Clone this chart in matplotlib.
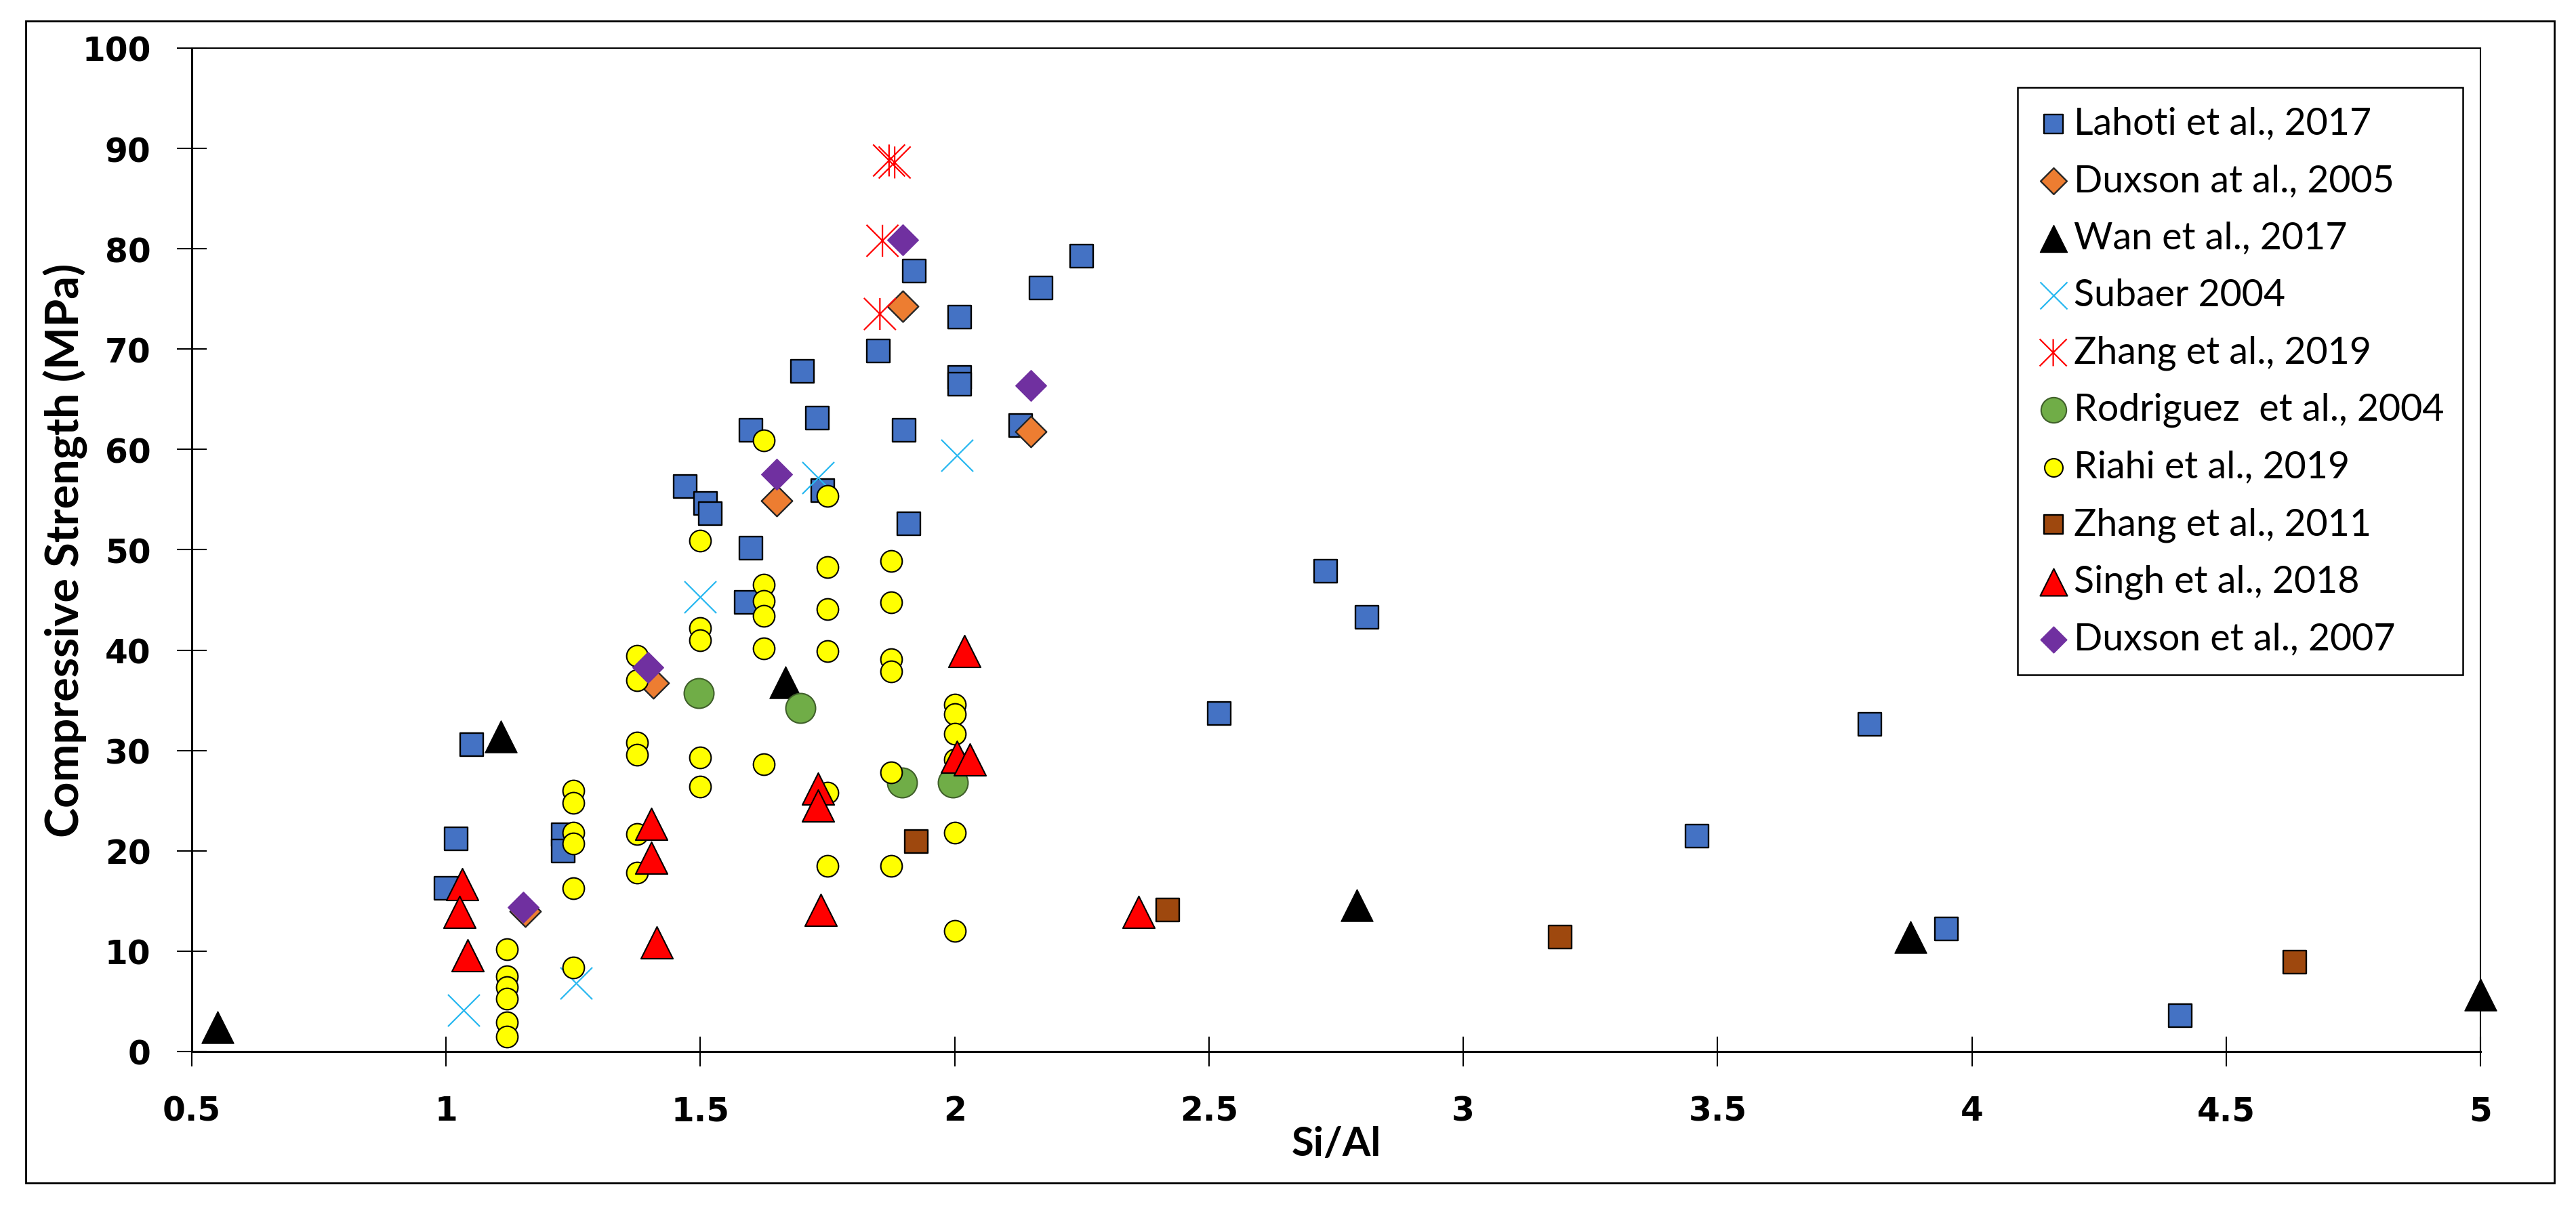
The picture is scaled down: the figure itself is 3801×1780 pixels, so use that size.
import matplotlib
matplotlib.use("Agg")
import matplotlib.pyplot as plt
from matplotlib.path import Path
from matplotlib.patches import Rectangle

# ---- data ----
lahoti_x = [1.00, 1.02, 1.05, 1.23, 1.23, 1.47, 1.51, 1.52, 1.60, 1.60, 1.59, 1.70, 1.73, 1.74,
            1.85, 1.90, 1.92, 1.91, 2.01, 2.01, 2.01, 2.13, 2.17, 2.25, 2.52, 2.73, 2.81,
            3.46, 3.80, 3.95, 4.41]
lahoti_y = [16.3, 21.2, 30.6, 21.6, 20.0, 56.3, 54.6, 53.6, 61.9, 50.2, 44.8, 67.8, 63.1, 55.9,
            69.8, 61.9, 77.8, 52.6, 73.2, 67.2, 66.5, 62.4, 76.1, 79.3, 33.7, 47.9, 43.3,
            21.5, 32.6, 12.2, 3.6]

duxson05_x = [1.156, 1.407, 1.65, 1.898, 2.15]
duxson05_y = [14.0, 36.7, 54.9, 74.3, 61.8]

wan_x = [0.55, 1.107, 1.667, 2.79, 3.88, 5.0]
wan_y = [2.4, 31.4, 36.8, 14.6, 11.4, 5.7]

subaer_x = [1.035, 1.255, 1.50, 1.731, 2.005]
subaer_y = [4.1, 6.8, 45.3, 57.2, 59.4]

zhang19_x = [1.871, 1.882, 1.858, 1.853]
zhang19_y = [88.8, 88.6, 80.8, 73.5]

rodriguez_x = [1.497, 1.696, 1.896, 1.996]
rodriguez_y = [35.7, 34.2, 26.8, 26.8]

riahi_x = [1.12] * 6 + [1.25] * 6 + [1.375] * 6 + [1.5] * 5 + [1.625] * 6 + [1.75] * 6 + [1.875] * 6 + [2.0] * 6
riahi_y = [10.2, 7.5, 6.4, 5.3, 2.9, 1.5,
           26.0, 24.8, 21.8, 20.7, 16.3, 8.4,
           39.4, 37.0, 30.8, 29.6, 21.7, 17.8,
           50.9, 42.2, 41.0, 29.3, 26.4,
           60.9, 46.5, 44.9, 43.4, 40.2, 28.6,
           55.4, 48.3, 44.1, 39.9, 25.8, 18.5,
           48.9, 44.8, 39.1, 37.9, 27.8, 18.5,
           34.6, 33.6, 31.7, 29.1, 21.8, 12.0]

zhang11_x = [1.925, 2.419, 3.19, 4.635]
zhang11_y = [20.9, 14.1, 11.4, 8.9]

singh_x = [1.032, 1.027, 1.042, 1.404, 1.404, 1.414, 1.731, 1.731, 1.737, 2.019, 2.004, 2.03, 2.362]
singh_y = [16.7, 13.9, 9.6, 22.7, 19.3, 10.9, 26.2, 24.5, 14.1, 39.9, 29.4, 29.1, 13.9]

duxson07_x = [1.152, 1.397, 1.650, 1.898, 2.15]
duxson07_y = [14.4, 38.3, 57.5, 80.9, 66.4]

xticks = [0.5, 1, 1.5, 2, 2.5, 3, 3.5, 4, 4.5, 5]
xtick_labels = ['0.5', '1', '1.5', '2', '2.5', '3', '3.5', '4', '4.5', '5']
yticks = [0, 10, 20, 30, 40, 50, 60, 70, 80, 90, 100]

# excel-style star: an x with a vertical bar
star = Path([(-0.5, -0.5), (0.5, 0.5), (-0.5, 0.5), (0.5, -0.5), (0, -0.5), (0, 0.5)],
            [Path.MOVETO, Path.LINETO] * 3)

txt_font = ['Lato', 'DejaVu Sans']

fig = plt.figure(figsize=(38.01, 17.81), dpi=100)
ax = fig.add_axes([0.07445, 0.12802, 0.88845, 0.83156])

kw = dict(clip_on=False)
ax.scatter(lahoti_x, lahoti_y, marker='s', s=570, facecolor='#4472C4', edgecolor='black',
           linewidths=1.7, label='Lahoti et al., 2017', zorder=3, **kw)
ax.scatter(duxson05_x, duxson05_y, marker='D', s=540, facecolor='#ED7D31', edgecolor='#262626',
           linewidths=1.7, label='Duxson at al., 2005', zorder=4, **kw)
ax.scatter(wan_x, wan_y, marker='^', s=1150, facecolor='black', edgecolor='black',
           linewidths=1.0, label='Wan et al., 2017', zorder=5, **kw)
ax.scatter(subaer_x, subaer_y, marker='x', s=1150, color='#29B8F0',
           linewidths=1.6, label='Subaer 2004', zorder=6, **kw)
ax.scatter(zhang19_x, zhang19_y, marker=star, s=1150, facecolors='none', edgecolors='#FF0000',
           linewidths=1.6, label='Zhang et al., 2019', zorder=7, **kw)
ax.scatter(rodriguez_x, rodriguez_y, marker='o', s=1000, facecolor='#70AD47', edgecolor='#3F5F2A',
           linewidths=1.5, label='Rodriguez  et al., 2004', zorder=8, **kw)
ax.scatter(riahi_x, riahi_y, marker='o', s=520, facecolor='#FFFF00', edgecolor='black',
           linewidths=1.5, label='Riahi et al., 2019', zorder=9, **kw)
ax.scatter(zhang11_x, zhang11_y, marker='s', s=570, facecolor='#9E480E', edgecolor='black',
           linewidths=1.7, label='Zhang et al., 2011', zorder=10, **kw)
ax.scatter(singh_x, singh_y, marker='^', s=1150, facecolor='#FF0000', edgecolor='black',
           linewidths=1.5, label='Singh et al., 2018', zorder=11, **kw)
ax.scatter(duxson07_x, duxson07_y, marker='D', s=540, facecolor='#7030A0', edgecolor='#7030A0',
           linewidths=1.0, label='Duxson et al., 2007', zorder=12, **kw)

ax.set_xlim(0.5, 5)
ax.set_ylim(0, 100)
ax.set_xticks(xticks)
ax.set_xticklabels(xtick_labels)
ax.set_yticks(yticks)
ax.tick_params(direction='inout', length=31, width=1.5, colors='black')
ax.tick_params(axis='y', pad=28)
ax.tick_params(axis='x', pad=30)
for lab in ax.get_xticklabels() + ax.get_yticklabels():
    lab.set_fontsize(35)
    lab.set_fontweight('bold')
    lab.set_family('DejaVu Sans')

for side in ['left', 'bottom']:
    ax.spines[side].set_linewidth(2.2)
for side in ['top', 'right']:
    ax.spines[side].set_linewidth(1.5)

ax.set_ylabel('Compressive Strength (MPa)', fontsize=48, fontweight='bold', family=txt_font)
ax.yaxis.set_label_coords(-0.0453, 0.5)
ax.set_xlabel('Si/Al', fontsize=43, fontweight='bold', family=txt_font, va='top')
ax.xaxis.set_label_coords(0.5, -0.0736)

leg = ax.legend(loc='upper left', bbox_to_anchor=(0.7977, 0.9609), fancybox=False,
                edgecolor='black', framealpha=1, prop={'family': txt_font, 'size': 40},
                labelspacing=0.6, handletextpad=0.1, handlelength=0.9, borderpad=0.5,
                markerscale=0.85, borderaxespad=0)
leg.get_frame().set_linewidth(1.8)

fig.patches.append(Rectangle((0.0100, 0.0191), 0.9816, 0.9630, transform=fig.transFigure,
                             fill=False, edgecolor='black', linewidth=2))

fig.savefig('out.png', dpi=100)
